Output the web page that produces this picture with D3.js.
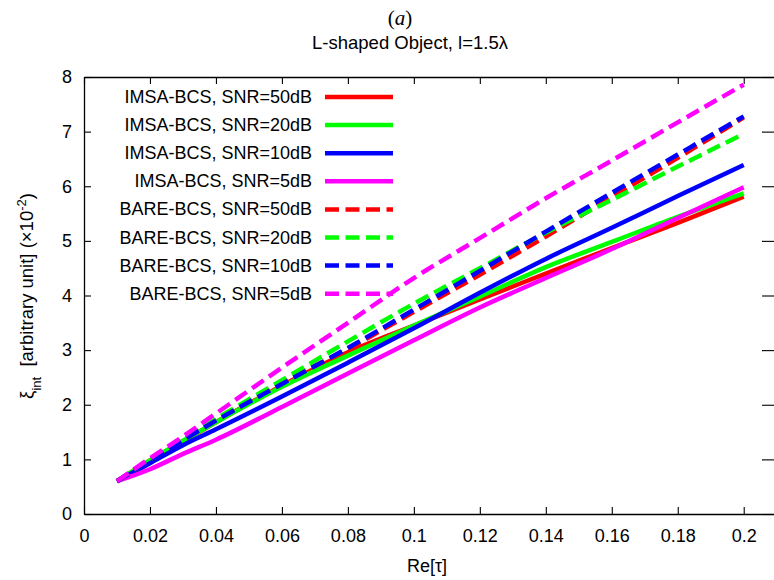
<!DOCTYPE html>
<html>
<head>
<meta charset="utf-8">
<script src="https://cdn.jsdelivr.net/npm/d3@7"></script>
<style>
  body { margin: 0; background: #fff; }
  text { font-family: "Liberation Sans", Arial, Helvetica, sans-serif; fill: #000; }
</style>
</head>
<body>
<svg id="chart" width="774" height="580"></svg>
<script>
// Re[tau] sample points shared by every curve
const reTau = [0.01, 0.02, 0.03, 0.04, 0.06, 0.08, 0.10, 0.12, 0.14, 0.16, 0.18, 0.20];

// xi_int (x 10^-2) for each method / noise level
const imsa50 = [0.60, 0.98, 1.33, 1.68, 2.35, 2.96, 3.45, 3.93, 4.40, 4.87, 5.33, 5.81];
const imsa20 = [0.60, 0.98, 1.34, 1.68, 2.33, 2.90, 3.45, 3.98, 4.52, 4.98, 5.44, 5.87];
const imsa10 = [0.60, 0.93, 1.26, 1.55, 2.15, 2.77, 3.40, 4.05, 4.67, 5.24, 5.82, 6.39];
const imsa5  = [0.60, 0.82, 1.10, 1.36, 1.96, 2.57, 3.18, 3.78, 4.32, 4.85, 5.42, 5.98];
const bare50 = [0.60, 0.98, 1.36, 1.72, 2.40, 3.02, 3.70, 4.38, 5.08, 5.80, 6.52, 7.26];
const bare20 = [0.60, 0.99, 1.37, 1.74, 2.45, 3.16, 3.85, 4.50, 5.15, 5.75, 6.36, 6.96];
const bare10 = [0.60, 0.98, 1.35, 1.71, 2.38, 3.04, 3.74, 4.45, 5.17, 5.88, 6.58, 7.28];
const bare5  = [0.60, 1.02, 1.42, 1.84, 2.68, 3.50, 4.32, 5.05, 5.78, 6.47, 7.17, 7.86];

const seriesLabels = [
  "IMSA-BCS, SNR=50dB", "IMSA-BCS, SNR=20dB", "IMSA-BCS, SNR=10dB", "IMSA-BCS, SNR=5dB",
  "BARE-BCS, SNR=50dB", "BARE-BCS, SNR=20dB", "BARE-BCS, SNR=10dB", "BARE-BCS, SNR=5dB"
];
const seriesValues = [imsa50, imsa20, imsa10, imsa5, bare50, bare20, bare10, bare5];
const seriesColors = ["#ff0000", "#00ff00", "#0000ff", "#ff00ff", "#ff0000", "#00ff00", "#0000ff", "#ff00ff"];
const seriesDashed = [false, false, false, false, true, true, true, true];

const xTickValues = [0, 0.02, 0.04, 0.06, 0.08, 0.1, 0.12, 0.14, 0.16, 0.18, 0.2];
const yTickValues = [0, 1, 2, 3, 4, 5, 6, 7, 8];

const svg = d3.select("#chart");
const plotLeft = 84, plotRight = 780, plotTop = 77, plotBottom = 514;

const x = d3.scaleLinear().domain([0, 0.211]).range([plotLeft, plotRight]);
const y = d3.scaleLinear().domain([0, 8]).range([plotBottom, plotTop]);

// axes with inward ticks
const fmt = d => d3.format("")(d);
svg.append("g").attr("transform", `translate(0,${plotBottom})`)
  .call(d3.axisBottom(x).tickValues(xTickValues).tickSizeInner(-7).tickSizeOuter(0).tickPadding(15).tickFormat(fmt));
svg.append("g").attr("transform", `translate(0,${plotTop})`)
  .call(d3.axisTop(x).tickValues(xTickValues).tickSizeInner(-7).tickSizeOuter(0).tickFormat(""));
svg.append("g").attr("transform", `translate(${plotLeft},0)`)
  .call(d3.axisLeft(y).tickValues(yTickValues).tickSizeInner(-7).tickSizeOuter(0).tickPadding(12));
svg.append("g").attr("transform", `translate(${plotRight},0)`)
  .call(d3.axisRight(y).tickValues(yTickValues).tickSizeInner(-18).tickSizeOuter(0).tickFormat(""));

svg.selectAll(".domain").attr("stroke", "#000").attr("stroke-width", 1.3);
svg.selectAll(".tick line").attr("stroke", "#000").attr("stroke-width", 1.1);
svg.selectAll(".tick text").style("font-size", "18px").style("font-family", "'Liberation Sans', Arial, sans-serif").attr("fill", "#000");

// curves
const line = d3.line()
  .x(d => x(d[0]))
  .y(d => y(d[1]))
  .curve(d3.curveMonotoneX);

const plot = svg.append("g");
seriesValues.forEach((vals, i) => {
  plot.append("path")
    .datum(reTau.map((t, k) => [t, vals[k]]))
    .attr("fill", "none")
    .attr("stroke", seriesColors[i])
    .attr("stroke-width", 4.5)
    .attr("stroke-dasharray", seriesDashed[i] ? "14,6.5" : null)
    .attr("d", line);
});

// legend
const legend = svg.append("g");
seriesLabels.forEach((lab, i) => {
  const ly = 97 + i * 28.1;
  legend.append("text")
    .attr("x", 312).attr("y", ly + 6)
    .attr("text-anchor", "end")
    .style("font-size", "18px")
    .text(lab);
  legend.append("line")
    .attr("x1", 325).attr("x2", 393)
    .attr("y1", ly).attr("y2", ly)
    .attr("stroke", seriesColors[i])
    .attr("stroke-width", 4.5)
    .attr("stroke-dasharray", seriesDashed[i] ? "14,6.5" : null);
});

// titles
const t1 = svg.append("text").attr("x", 400).attr("y", 25).attr("text-anchor", "middle")
  .style("font-family", "'Liberation Serif', 'DejaVu Serif', serif").style("font-size", "21px");
t1.append("tspan").text("(");
t1.append("tspan").style("font-style", "italic").text("a");
t1.append("tspan").text(")");

svg.append("text").attr("x", 410).attr("y", 49).attr("text-anchor", "middle")
  .style("font-size", "18.5px").text("L-shaped Object, l=1.5λ");

// axis labels
svg.append("text").attr("x", 427).attr("y", 572).attr("text-anchor", "middle")
  .style("font-size", "18px").text("Re[τ]");

const yl = svg.append("text")
  .attr("transform", "translate(33,296) rotate(-90)")
  .attr("text-anchor", "middle")
  .style("font-size", "18.5px")
  .style("white-space", "pre");
yl.append("tspan").text("ξ");
yl.append("tspan").attr("baseline-shift", "sub").style("font-size", "13px").text("int");
yl.append("tspan").text("\u00a0 [arbitrary unit] (×10");
yl.append("tspan").attr("baseline-shift", "super").style("font-size", "13px").text("-2");
yl.append("tspan").text(")");
</script>
</body>
</html>
